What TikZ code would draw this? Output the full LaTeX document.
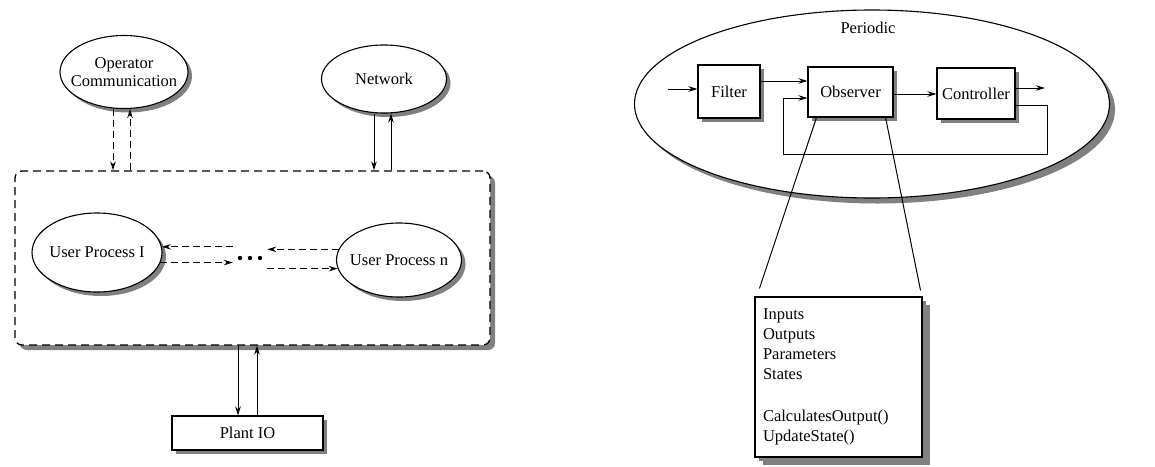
\documentclass[tikz,border=0pt]{standalone}
\usepackage{fontspec}
\setmainfont{Liberation Serif}
\usetikzlibrary{shapes.geometric,shadows,arrows.meta,calc}
\begin{document}
\begin{tikzpicture}[x=1pt,y=-1pt, font=\fontsize{16.5}{18}\selectfont,
  shad/.style={drop shadow={shadow xshift=#1,shadow yshift=-#1,fill=black!50,opacity=1}},
  shad/.default=4pt,
  ell/.style={ellipse,draw,fill=white,line width=1.1pt,inner sep=0pt,shad},
  box/.style={rectangle,draw,fill=white,line width=1.1pt,inner sep=0pt,shad},
  arr/.style={line width=1pt,-{Stealth[length=9pt,width=5.5pt]}},
  dsh/.style={arr,dash pattern=on 7pt off 4pt},
  thin/.style={line width=1pt}]
\path[use as bounding box] (0,0) rectangle (1155,466);

% ---------- left diagram ----------
\node[box, shad=5pt, rounded corners=7pt, dash pattern=on 8pt off 5pt, line width=1.3pt,
      minimum width=475pt, minimum height=174pt] (sys) at (252.5,258) {};
\node[ell, minimum width=128pt, minimum height=73pt,
      label={[align=center]center:Operator\\Communication}] (opc) at (124,72) {};
\node[ell, minimum width=125pt, minimum height=68pt, label=center:Network] (net) at (384,79) {};
\node[ell, minimum width=130pt, minimum height=79pt, label=center:User Process I] (up1) at (97,252.5) {};
\node[ell, minimum width=125pt, minimum height=74pt, label=center:User Process n] (upn) at (399,260) {};
\node[minimum width=34pt, minimum height=8pt, inner sep=0pt] (dots) at (250,258) {};
\foreach \dx in {-10,0,10} \fill ($(dots.center)+(\dx,0)$) circle (2.2pt);
\node[box, minimum width=151pt, minimum height=34pt] (pio) at (247.5,433) {Plant IO};

\coordinate (oa) at ($(opc.south)+(-11,0)$);
\coordinate (ob) at ($(opc.south)+(6,0)$);
\draw[dsh] (oa) -- (oa |- sys.north);
\draw[dsh] (ob |- sys.north) -- (ob);

\coordinate (na) at ($(net.south)+(-10,0)$);
\coordinate (nb) at ($(net.south)+(7,0)$);
\draw[arr] (na) -- (na |- sys.north);
\draw[arr] (nb |- sys.north) -- (nb);

\draw[dsh] (upn.170) -- (dots.east |- upn.170);
\draw[dsh] (dots.west |- up1.5) -- (up1.5);
\draw[dsh] (up1.-9) -- (dots.west |- up1.-9);
\draw[dsh] (dots.east |- upn.188) -- (upn.188);

\coordinate (pa) at ($(pio.north)+(-9.5,0)$);
\coordinate (pb) at ($(pio.north)+(9.5,0)$);
\draw[arr] (pa |- sys.south) -- (pa);
\draw[arr] (pb) -- (pb |- sys.south);

% ---------- right diagram ----------
\node[ell, shad=5.5pt, minimum width=475pt, minimum height=188pt] (per) at (872,104) {};
\node (perl) at (868,28) {Periodic};
\node[box, minimum width=62pt, minimum height=53pt] (fil) at (729,91.5) {Filter};
\node[box, minimum width=85pt, minimum height=50pt] (obs) at (850.5,92) {Observer};
\node[box, minimum width=78pt, minimum height=51pt] (ctl) at (976,93.5) {Controller};

\coordinate (in) at (668,89);
\draw[arr] (in) -- (in -| fil.west);
\coordinate (f1) at ($(fil.east)+(0,-10.5)$);
\draw[arr] (f1) -- (f1 -| obs.west);
\coordinate (o1) at ($(obs.east)+(0,2)$);
\draw[arr] (o1) -- (o1 -| ctl.west);
\coordinate (cout) at (1045,88);
\draw[arr] (cout -| ctl.east) -- (cout);
\coordinate (c1) at ($(ctl.east)+(0,11.5)$);
\coordinate (fbR) at (1047,154);
\coordinate (fbL) at (783,154);
\coordinate (o2) at ($(obs.west)+(0,6)$);
\draw[arr] (c1) -| (fbR) -- (fbL) |- (o2);

\node[box, shad=8pt, minimum width=167pt, minimum height=160pt, text width=151pt,
      inner xsep=8pt, align=left, font=\fontsize{16.5}{20}\selectfont] (det) at (838.5,377)
  {Inputs\\Outputs\\Parameters\\States\\[22pt]CalculatesOutput()\\UpdateState()};

\draw[thin] ($(obs.south west)+(9,0)$) -- ($(det.north west)+(5,-8)$);
\draw[thin] ($(obs.south east)+(-8,0)$) -- ($(det.north east)+(-2,-6)$);
\end{tikzpicture}
\end{document}
